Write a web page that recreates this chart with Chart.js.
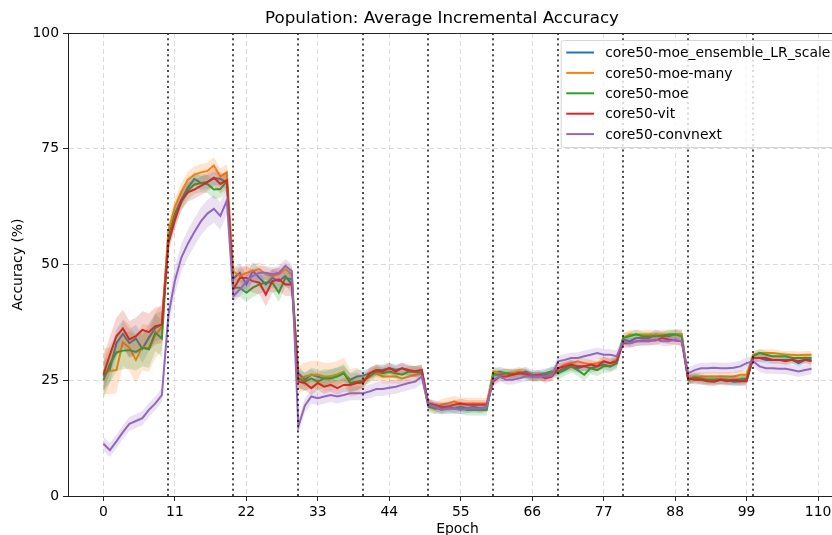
<!DOCTYPE html>
<html>
<head>
<meta charset="utf-8">
<script src="https://cdn.jsdelivr.net/npm/chart.js@4.4.0/dist/chart.umd.min.js"></script>
<style>
html, body { margin: 0; padding: 0; background: #fff; overflow: hidden; }
#wrap { width: 832px; height: 535px; overflow: hidden; }
</style>
</head>
<body>
<div id="wrap"><canvas id="grafica" width="856" height="535"></canvas></div>
<script>
const epochs = Array.from({length: 110}, (_, i) => i)
const xTicks = [0, 11, 22, 33, 44, 55, 66, 77, 88, 99, 110]
const yTicks = [0, 25, 50, 75, 100]
const taskBounds = [10, 20, 30, 40, 50, 60, 70, 80, 90, 100]

const labels = ['core50-moe_ensemble_LR_scale', 'core50-moe-many', 'core50-moe', 'core50-vit', 'core50-convnext']
const colors = ['31,119,180', '255,127,14', '44,160,44', '214,39,40', '148,103,189']

const acc_ensemble = [
  25.8, 27.5, 33, 35, 33, 34, 31.8, 34.2, 36.3, 37,
  56.5, 61, 64, 66.6, 68.5, 67.6, 67.8, 68.6, 68.5, 67.7,
  47, 48.2, 45.7, 48.6, 47.1, 45.7, 47.1, 46.4, 47.5, 45.7,
  26.5, 25.1, 26.2, 25.8, 25.4, 25.8, 26.2, 26.5, 25.1, 25.8,
  26, 26.5, 27.2, 27.2, 27.6, 27.2, 27.6, 26.9, 26.9, 27.2,
  20, 19.3, 18.9, 19.3, 18.9, 19.3, 18.9, 19.3, 18.9, 19.2,
  26.5, 26.9, 26.5, 26.5, 26.5, 26.9, 26.2, 26.2, 26.5, 26.9,
  26.9, 27.6, 28, 27.6, 28, 27.6, 28, 28.4, 28, 28.7,
  33.8, 33.4, 34.1, 34.1, 34.1, 34.9, 34.5, 34.5, 34.9, 34.9,
  25.1, 25.4, 25.1, 25.1, 25.1, 25.2, 25.1, 24.7, 24.8, 25.1,
  29.8, 29.8, 29.4, 29.4, 29.4, 29.4, 29.4, 28.7, 29.4, 29.4
]
const acc_many = [
  27, 27, 27.2, 33.2, 32, 29.4, 32.2, 31.8, 34.8, 36.5,
  57.3, 62.5, 65.8, 68.3, 69.4, 69.9, 70.2, 71.4, 69, 69.9,
  48.5, 47.5, 48.2, 48.6, 49, 47.9, 47.5, 47.9, 49, 47.9,
  25.1, 25.8, 26.2, 26.2, 25.8, 25.8, 26.2, 26.9, 24.4, 24.7,
  25, 26.2, 26.5, 25.8, 25.8, 25.8, 25.4, 25.8, 26.2, 26.5,
  20, 18.9, 19.7, 20, 20.4, 20, 20, 20, 20, 20,
  26.9, 26.5, 26.5, 26.5, 26.9, 26.5, 25.8, 25.8, 25.8, 26.5,
  27.6, 28.4, 28.7, 29.1, 28.7, 28.4, 28.7, 29.1, 28.7, 29.4,
  34.1, 34.9, 34.9, 34.9, 34.9, 34.9, 34.9, 34.9, 35, 35,
  25.4, 25.8, 25.8, 25.8, 25.8, 25.8, 25.8, 25.8, 26.2, 26.2,
  30.5, 30.9, 30.9, 30.9, 30.7, 30.5, 30.5, 30.4, 30.5, 30.5
]
const acc_moe = [
  25, 28.5, 31, 31.4, 31.5, 31.1, 32, 31.7, 35.3, 34,
  55.3, 60.5, 63.5, 66, 67.3, 67.6, 67.4, 66.2, 66.3, 68,
  45, 45, 43.9, 45, 45.7, 46.1, 46.1, 43.9, 47.1, 46.8,
  25.4, 24.7, 25.4, 24.7, 25.4, 25.4, 25.8, 26.5, 24.4, 24.7,
  24.9, 25.8, 26.9, 26.5, 26.9, 26.5, 26.2, 26.9, 26.9, 26.5,
  19.3, 18.9, 18.9, 18.9, 18.9, 18.9, 18.6, 18.6, 18.6, 18.6,
  26.2, 26.2, 26.5, 26.2, 26.5, 26.2, 25.8, 25.8, 26.2, 26.9,
  26.5, 27.2, 28, 27.2, 26.2, 27.6, 27.2, 28, 28, 28.7,
  34.1, 34.5, 34.9, 34.5, 34.5, 34.5, 34.5, 34.9, 34.9, 34.5,
  25.1, 25.6, 25.4, 25.1, 25.1, 25.1, 25.1, 25.1, 25.2, 25.4,
  30.2, 30.9, 30.5, 30.2, 30.2, 30.2, 29.8, 29.8, 29.8, 29.8
]
const acc_vit = [
  26.2, 30.5, 34.5, 36.2, 33.8, 34.5, 35.9, 35.4, 36.7, 37,
  54.6, 59.5, 63.8, 65.6, 66.2, 67, 67.8, 68.8, 67.4, 68.2,
  44.6, 47.1, 47.1, 46.4, 46.1, 43.5, 46.4, 46.8, 45.7, 45.7,
  24.7, 24.4, 23.3, 24.4, 23.6, 24, 23.3, 24, 24, 24.4,
  24.5, 26.5, 27.2, 26.9, 27.6, 26.9, 27.6, 27.2, 26.9, 27.2,
  20, 19.7, 19.3, 19.3, 19.7, 20, 19.7, 19.7, 19.7, 19.7,
  24.7, 25.8, 25.8, 26.2, 26.5, 26.5, 25.8, 26.2, 25.4, 25.8,
  27.6, 28, 28.4, 28, 28, 28.4, 28, 29.1, 28.7, 29.1,
  33, 33, 33.4, 33.6, 33.6, 33.6, 34.1, 33.8, 33.6, 33.4,
  25.4, 25.1, 25.1, 24.8, 24.7, 25.1, 24.8, 25.1, 24.8, 24.8,
  29.8, 29.8, 29.8, 29.4, 29.4, 29.1, 29.4, 29.1, 29.4, 29.1
]
const acc_convnext = [
  11.3, 9.9, 11.8, 13.8, 15.6, 16.2, 16.8, 18.6, 20, 21.8,
  39, 46.5, 51.5, 54.5, 57, 59.3, 61, 62, 60.5, 63.8,
  43.2, 44.6, 46.4, 47.5, 48.2, 48.2, 47.9, 48.2, 49.7, 48.6,
  15, 19.5, 21.5, 21.1, 21.5, 21.8, 21.5, 21.8, 22.2, 22.2,
  22.2, 22.6, 23.1, 23.1, 23.4, 23.6, 24, 24.4, 24.7, 25.8,
  19.7, 19.3, 18.6, 18.9, 18.9, 18.6, 18.9, 18.9, 18.9, 19.3,
  25.1, 25.8, 25.1, 25.1, 25.4, 25.8, 25.8, 25.8, 25.8, 26,
  29.1, 29.4, 29.8, 29.8, 30.2, 30.5, 30.9, 30.5, 30.5, 30.2,
  33.4, 33, 33.4, 33.4, 33.4, 33.8, 33.4, 33.4, 33.8, 33.4,
  26.5, 27.2, 27.6, 27.6, 27.7, 27.6, 27.6, 27.7, 28, 28.7,
  29.1, 28, 27.6, 27.6, 27.5, 27.5, 27.2, 26.9, 27.2, 27.5
]

// half width of the shaded band, one value per task (10 epochs)
const spread_ensemble = [3, 1.5, 2, 1.5, 1.2, 1, 1, 1, 1, 1, 0.8]
const spread_many = [5, 1.8, 1.5, 3, 1.5, 1.2, 1, 1, 1, 1, 0.8]
const spread_moe = [4, 2, 2, 2, 1.2, 1.2, 1, 1.3, 1, 1, 0.8]
const spread_vit = [4, 2, 2.5, 1.5, 1.2, 1, 1, 1, 1, 1, 0.8]
const spread_convnext = [1.5, 3, 1.5, 1.5, 1.5, 1, 1, 1.2, 1, 1.2, 1.2]

const means = [acc_ensemble, acc_many, acc_moe, acc_vit, acc_convnext]
const spreads = [spread_ensemble, spread_many, spread_moe, spread_vit, spread_convnext]

const datasets = []
means.forEach((m, k) => {
    const sp = spreads[k]
    const orden = 100 - 3 * k
    datasets.push({
        data: epochs.map(e => ({x: e, y: m[e] - sp[Math.floor(e / 10)]})),
        borderColor: 'rgba(0,0,0,0)', borderWidth: 1, pointRadius: 0, fill: false, order: orden
    })
    datasets.push({
        data: epochs.map(e => ({x: e, y: m[e] + sp[Math.floor(e / 10)]})),
        borderColor: 'rgba(0,0,0,0)', borderWidth: 1, pointRadius: 0,
        fill: '-1', backgroundColor: 'rgba(' + colors[k] + ',0.2)', order: orden - 1
    })
    datasets.push({
        label: labels[k],
        data: epochs.map(e => ({x: e, y: m[e]})),
        borderColor: 'rgb(' + colors[k] + ')', borderWidth: 2, pointRadius: 0, fill: false, order: orden - 2
    })
})

const FONT = 'DejaVu Sans'

const extras = {
    id: 'extras',
    afterDatasetsDraw(chart) {
        const ctx = chart.ctx
        const area = chart.chartArea
        const xs = chart.scales.x
        ctx.save()
        ctx.strokeStyle = 'rgba(0,0,0,0.7)'
        ctx.lineWidth = 2
        ctx.setLineDash([2, 3.3])
        taskBounds.forEach(b => {
            const px = Math.round(xs.getPixelForValue(b))
            ctx.beginPath()
            ctx.moveTo(px, area.top)
            ctx.lineTo(px, area.bottom)
            ctx.stroke()
        })
        ctx.setLineDash([])
        // top spine
        ctx.strokeStyle = '#222'
        ctx.lineWidth = 1
        ctx.beginPath()
        ctx.moveTo(area.left, area.top + 0.5)
        ctx.lineTo(area.right, area.top + 0.5)
        ctx.stroke()
        ctx.restore()
    },
    afterDraw(chart) {
        const ctx = chart.ctx
        const area = chart.chartArea
        ctx.save()
        // title
        ctx.font = '16.7px "' + FONT + '"'
        ctx.fillStyle = '#000'
        ctx.textAlign = 'center'
        ctx.textBaseline = 'middle'
        ctx.fillText('Population: Average Incremental Accuracy', 442, 19)

        // legend
        ctx.font = '13.9px "' + FONT + '"'
        let maxw = 0
        labels.forEach(l => { maxw = Math.max(maxw, ctx.measureText(l).width) })
        const w = 5.6 + 27.8 + 11.1 + maxw + 5.6
        const h = 107
        const x0 = area.right - 11 - w
        const y0 = area.top + 7
        ctx.beginPath()
        ctx.roundRect(x0 + 0.5, y0 + 0.5, w, h, 3)
        ctx.fillStyle = 'rgba(255,255,255,0.8)'
        ctx.fill()
        ctx.strokeStyle = 'rgba(204,204,204,0.8)'
        ctx.lineWidth = 1
        ctx.stroke()
        ctx.textAlign = 'left'
        labels.forEach((l, i) => {
            const cy = y0 + 12.5 + 20.4 * i
            ctx.strokeStyle = 'rgb(' + colors[i] + ')'
            ctx.lineWidth = 2
            ctx.beginPath()
            ctx.moveTo(x0 + 5.6, cy)
            ctx.lineTo(x0 + 5.6 + 27.8, cy)
            ctx.stroke()
            ctx.fillStyle = '#000'
            ctx.fillText(l, x0 + 5.6 + 27.8 + 11.1, cy + 1)
        })
        ctx.restore()
    }
}

const grid = {
    color: 'rgba(190,190,190,0.55)',
    lineWidth: 1,
    tickColor: '#222',
    tickLength: 5,
    tickWidth: 1
}

new Chart(document.getElementById('grafica'), {
    type: 'line',
    data: { datasets: datasets },
    options: {
        responsive: false,
        animation: false,
        events: [],
        layout: { padding: { top: 33, right: 9, left: 0, bottom: 0 } },
        plugins: {
            legend: { display: false },
            title: { display: false },
            tooltip: { enabled: false }
        },
        scales: {
            x: {
                type: 'linear',
                min: -5.45,
                max: 114.45,
                grid: grid,
                border: { display: true, color: '#222', width: 1, dash: [5, 3] },
                afterBuildTicks: (scale) => { scale.ticks = xTicks.map(v => ({value: v})) },
                afterFit: (scale) => { scale.height = 39 },
                ticks: { autoSkip: false, maxRotation: 0, padding: 3, color: '#000', font: { family: FONT, size: 13.9 } },
                title: { display: true, text: 'Epoch', color: '#000', padding: { top: 0, bottom: -3 }, font: { family: FONT, size: 13.9 } }
            },
            y: {
                min: 0,
                max: 100,
                grid: grid,
                border: { display: true, color: '#222', width: 1, dash: [5, 3] },
                afterBuildTicks: (scale) => { scale.ticks = yTicks.map(v => ({value: v})) },
                afterFit: (scale) => { scale.width = 68 },
                ticks: { padding: 4, color: '#000', font: { family: FONT, size: 13.9 } },
                title: { display: true, text: 'Accuracy (%)', color: '#000', padding: { top: 10, bottom: 0 }, font: { family: FONT, size: 13.9 } }
            }
        }
    },
    plugins: [extras]
})
</script>
</body>
</html>
